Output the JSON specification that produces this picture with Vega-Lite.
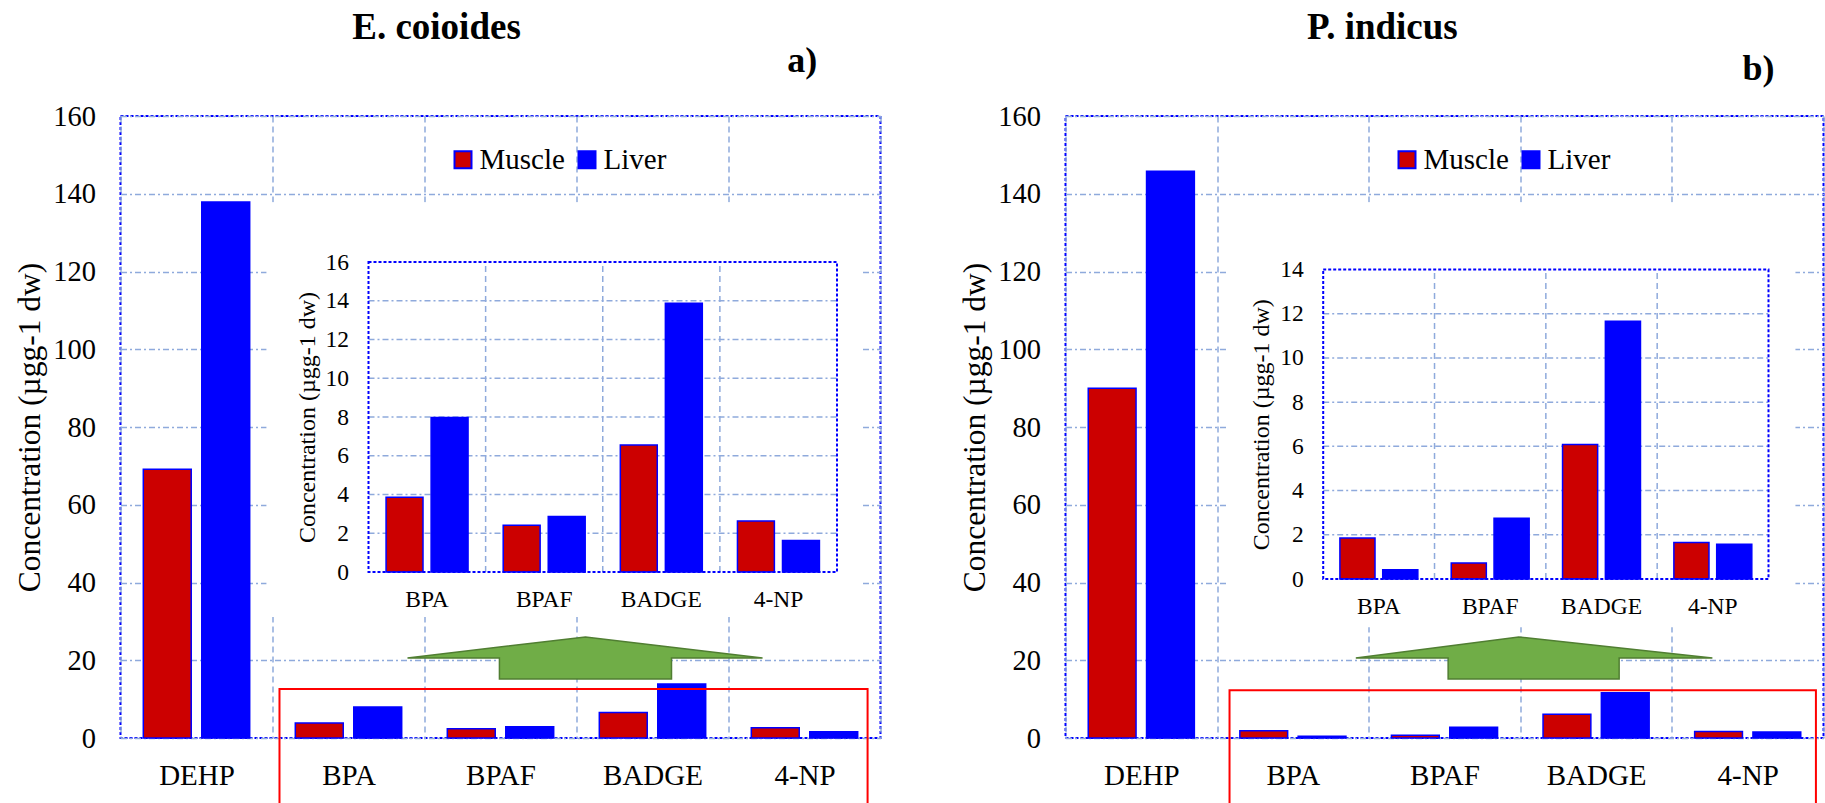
{
  "$schema": "https://vega.github.io/schema/vega-lite/v6.json",
  "padding": {"left": 13.5, "top": 8, "right": 0, "bottom": 0},
  "background": "white",
  "config": {
    "font": "Liberation Serif",
    "view": {"stroke": "#0000FF", "strokeDash": [3, 2], "strokeWidth": 2},
    "axis": {"labelColor": "black", "titleColor": "black", "labelFont": "Liberation Serif", "titleFont": "Liberation Serif", "titleFontWeight": "normal"},
    "text": {"font": "Liberation Serif"}
  },
  "datasets": {
    "a": [
      {"compound": "DEHP", "tissue": "Muscle", "value": 69.1},
      {"compound": "DEHP", "tissue": "Liver", "value": 137.9},
      {"compound": "BPA", "tissue": "Muscle", "value": 3.86},
      {"compound": "BPA", "tissue": "Liver", "value": 7.97},
      {"compound": "BPAF", "tissue": "Muscle", "value": 2.41},
      {"compound": "BPAF", "tissue": "Liver", "value": 2.87},
      {"compound": "BADGE", "tissue": "Muscle", "value": 6.56},
      {"compound": "BADGE", "tissue": "Liver", "value": 13.87},
      {"compound": "4-NP", "tissue": "Muscle", "value": 2.63},
      {"compound": "4-NP", "tissue": "Liver", "value": 1.63}
    ],
    "b": [
      {"compound": "DEHP", "tissue": "Muscle", "value": 90.0},
      {"compound": "DEHP", "tissue": "Liver", "value": 145.8},
      {"compound": "BPA", "tissue": "Muscle", "value": 1.86},
      {"compound": "BPA", "tissue": "Liver", "value": 0.42},
      {"compound": "BPAF", "tissue": "Muscle", "value": 0.72},
      {"compound": "BPAF", "tissue": "Liver", "value": 2.75},
      {"compound": "BADGE", "tissue": "Muscle", "value": 6.08},
      {"compound": "BADGE", "tissue": "Liver", "value": 11.66},
      {"compound": "4-NP", "tissue": "Muscle", "value": 1.65},
      {"compound": "4-NP", "tissue": "Liver", "value": 1.57}
    ],
    "gridA": [{"v": 2}, {"v": 4}, {"v": 6}, {"v": 8}, {"v": 10}, {"v": 12}, {"v": 14}],
    "gridB": [{"v": 2}, {"v": 4}, {"v": 6}, {"v": 8}, {"v": 10}, {"v": 12}],
    "arrowA": [
      {"i": 0, "x": 1.888, "y": 20.6},
      {"i": 1, "x": 3.059, "y": 26.0},
      {"i": 2, "x": 4.224, "y": 20.6},
      {"i": 3, "x": 3.625, "y": 20.6},
      {"i": 4, "x": 3.625, "y": 15.2},
      {"i": 5, "x": 2.493, "y": 15.2},
      {"i": 6, "x": 2.493, "y": 20.6},
      {"i": 7, "x": 1.888, "y": 20.6}
    ],
    "arrowB": [
      {"i": 0, "x": 1.915, "y": 20.6},
      {"i": 1, "x": 2.99, "y": 26.0},
      {"i": 2, "x": 4.267, "y": 20.6},
      {"i": 3, "x": 3.652, "y": 20.6},
      {"i": 4, "x": 3.652, "y": 15.2},
      {"i": 5, "x": 2.524, "y": 15.2},
      {"i": 6, "x": 2.524, "y": 20.6},
      {"i": 7, "x": 1.915, "y": 20.6}
    ],
    "one": [{}]
  },
  "bounds": "flush",
  "spacing": 185,
  "resolve": {"scale": {"color": "independent"}, "legend": {"color": "independent"}},
  "hconcat": [
    {
      "width": 760,
      "height": 622,
      "resolve": {"scale": {"x": "independent", "y": "independent", "xOffset": "independent"}},
      "layer": [
        {
          "data": {"name": "a"},
          "mark": {"type": "bar", "stroke": "#0000FF", "strokeWidth": 1.5},
          "encoding": {
            "x": {"field": "compound", "type": "nominal", "sort": ["DEHP", "BPA", "BPAF", "BADGE", "4-NP"],
              "scale": {"paddingInner": 0, "paddingOuter": 0},
              "axis": {"title": null, "labelAngle": 0, "labelFontSize": 29, "labelPadding": 23, "ticks": false, "domain": false, "grid": true, "tickBand": "extent", "gridDash": [6, 4], "gridColor": "#8FAADC", "gridWidth": 1.5}},
            "xOffset": {"field": "tissue", "type": "nominal", "sort": ["Muscle", "Liver"], "scale": {"paddingInner": 0.18, "paddingOuter": 0.39}},
            "y": {"field": "value", "type": "quantitative", "scale": {"domain": [0, 160], "nice": false},
              "axis": {"values": [0, 20, 40, 60, 80, 100, 120, 140, 160], "title": "Concentration (µgg-1 dw)", "titleFontSize": 31.5, "titlePadding": 6, "labelFontSize": 28.5, "labelPadding": 25, "ticks": false, "domain": false, "grid": true, "gridDash": [6, 3, 2, 3], "gridColor": "#8FAADC", "gridWidth": 1.5}},
            "color": {"field": "tissue", "type": "nominal", "sort": ["Muscle", "Liver"],
              "scale": {"domain": ["Muscle", "Liver"], "range": ["#CC0000", "#0000FF"]},
              "legend": {"title": null, "orient": "none", "legendX": 328, "legendY": 29, "direction": "horizontal", "symbolType": "square", "symbolSize": 289, "symbolStrokeColor": "#0000FF", "symbolStrokeWidth": 2, "symbolOpacity": 1, "labelFontSize": 29, "labelFont": "Liberation Serif", "labelColor": "black", "labelOffset": 2, "columnPadding": 7}}
          }
        },
        {
          "layer": [
            {
              "data": {"name": "one"},
              "mark": {"type": "rect", "fill": "white", "strokeWidth": 0},
              "encoding": {
                "x": {"datum": 0.96, "type": "quantitative", "scale": {"domain": [0, 5], "nice": false, "zero": false}, "axis": null},
                "x2": {"datum": 4.875},
                "y": {"datum": 31.1, "type": "quantitative", "scale": {"domain": [0, 160], "nice": false}, "axis": null},
                "y2": {"datum": 137.8}
              }
            },
            {
              "data": {"name": "one"},
              "mark": {"type": "rect", "filled": false, "stroke": "#FF0000", "strokeWidth": 2},
              "encoding": {
                "x": {"datum": 1.046, "type": "quantitative", "axis": null},
                "x2": {"datum": 4.915},
                "y": {"datum": 12.6, "type": "quantitative", "axis": null},
                "y2": {"datum": -20}
              }
            },
            {
              "data": {"name": "arrowA"},
              "mark": {"type": "line", "filled": true, "fill": "#70AD47", "stroke": "#507E32", "strokeWidth": 1.5, "interpolate": "linear"},
              "encoding": {
                "x": {"field": "x", "type": "quantitative", "axis": null},
                "y": {"field": "y", "type": "quantitative", "axis": null},
                "order": {"field": "i", "type": "quantitative"}
              }
            },
            {
              "data": {"name": "one"},
              "mark": {"type": "text", "text": "E. coioides", "fontSize": 37, "fontWeight": "bold", "align": "center", "baseline": "alphabetic", "color": "black"},
              "encoding": {
                "x": {"datum": 2.079, "type": "quantitative", "axis": null},
                "y": {"datum": 179.7, "type": "quantitative", "axis": null}
              }
            },
            {
              "data": {"name": "one"},
              "mark": {"type": "text", "text": "a)", "fontSize": 36, "fontWeight": "bold", "align": "center", "baseline": "alphabetic", "color": "black"},
              "encoding": {
                "x": {"datum": 4.485, "type": "quantitative", "axis": null},
                "y": {"datum": 171.3, "type": "quantitative", "axis": null}
              }
            }
          ]
        },
        {
          "layer": [
            {
              "data": {"name": "gridA"},
              "mark": {"type": "rule", "stroke": "#8FAADC", "strokeWidth": 1.5, "strokeDash": [6, 3, 2, 3]},
              "encoding": {
                "x": {"datum": "BPA", "type": "nominal", "bandPosition": 0, "scale": {"domain": ["BPA", "BPAF", "BADGE", "4-NP"], "range": [248, 716.5], "paddingInner": 0, "paddingOuter": 0}},
                "x2": {"datum": "4-NP", "bandPosition": 1},
                "y": {"field": "v", "type": "quantitative", "scale": {"domain": [0, 16], "range": [456, 146], "nice": false}}
              }
            },
            {
              "data": {"name": "a"},
              "transform": [{"filter": "datum.tissue == 'Muscle' && datum.compound != 'DEHP' && datum.compound != 'BPA'"}],
              "mark": {"type": "rule", "stroke": "#8FAADC", "strokeWidth": 1.5, "strokeDash": [6, 4]},
              "encoding": {
                "x": {"field": "compound", "type": "nominal", "bandPosition": 0},
                "y": {"datum": 0, "type": "quantitative"},
                "y2": {"datum": 16}
              }
            },
            {
              "data": {"name": "a"},
              "transform": [{"filter": "datum.compound != 'DEHP'"}],
              "mark": {"type": "bar", "stroke": "#0000FF", "strokeWidth": 1.5},
              "encoding": {
                "x": {"field": "compound", "type": "nominal",
                  "axis": {"title": null, "orient": "bottom", "offset": -166, "zindex": 1, "bandPosition": 0.5, "labelAlign": "center", "labelAngle": 0, "labelFontSize": 23.5, "labelPadding": 27, "ticks": false, "domain": false, "grid": false}},
                "xOffset": {"field": "tissue", "type": "nominal", "sort": ["Muscle", "Liver"], "scale": {"paddingInner": 0.18, "paddingOuter": 0.39}},
                "y": {"field": "value", "type": "quantitative",
                  "axis": {"orient": "left", "offset": -248, "zindex": 1, "values": [0, 2, 4, 6, 8, 10, 12, 14, 16], "title": "Concentration (µgg-1 dw)", "titleFontSize": 24, "titlePadding": 6, "labelFontSize": 23.5, "labelPadding": 20, "ticks": false, "domain": false, "grid": false}},
                "color": {"field": "tissue", "type": "nominal", "sort": ["Muscle", "Liver"], "legend": null}
              }
            },
            {
              "data": {"name": "one"},
              "mark": {"type": "rect", "filled": false, "stroke": "#0000FF", "strokeWidth": 2, "strokeDash": [3, 2]},
              "encoding": {
                "x": {"datum": "BPA", "type": "nominal", "bandPosition": 0},
                "x2": {"datum": "4-NP", "bandPosition": 1},
                "y": {"datum": 0, "type": "quantitative"},
                "y2": {"datum": 16}
              }
            }
          ]
        }
      ]
    },
    {
      "width": 758,
      "height": 622,
      "resolve": {"scale": {"x": "independent", "y": "independent", "xOffset": "independent"}},
      "layer": [
        {
          "data": {"name": "b"},
          "mark": {"type": "bar", "stroke": "#0000FF", "strokeWidth": 1.5},
          "encoding": {
            "x": {"field": "compound", "type": "nominal", "sort": ["DEHP", "BPA", "BPAF", "BADGE", "4-NP"],
              "scale": {"paddingInner": 0, "paddingOuter": 0},
              "axis": {"title": null, "labelAngle": 0, "labelFontSize": 29, "labelPadding": 23, "ticks": false, "domain": false, "grid": true, "tickBand": "extent", "gridDash": [6, 4], "gridColor": "#8FAADC", "gridWidth": 1.5}},
            "xOffset": {"field": "tissue", "type": "nominal", "sort": ["Muscle", "Liver"], "scale": {"paddingInner": 0.18, "paddingOuter": 0.39}},
            "y": {"field": "value", "type": "quantitative", "scale": {"domain": [0, 160], "nice": false},
              "axis": {"values": [0, 20, 40, 60, 80, 100, 120, 140, 160], "title": "Concentration (µgg-1 dw)", "titleFontSize": 31.5, "titlePadding": 6, "labelFontSize": 28.5, "labelPadding": 25, "ticks": false, "domain": false, "grid": true, "gridDash": [6, 3, 2, 3], "gridColor": "#8FAADC", "gridWidth": 1.5}},
            "color": {"field": "tissue", "type": "nominal", "sort": ["Muscle", "Liver"],
              "scale": {"domain": ["Muscle", "Liver"], "range": ["#CC0000", "#0000FF"]},
              "legend": {"title": null, "orient": "none", "legendX": 327, "legendY": 29, "direction": "horizontal", "symbolType": "square", "symbolSize": 289, "symbolStrokeColor": "#0000FF", "symbolStrokeWidth": 2, "symbolOpacity": 1, "labelFontSize": 29, "labelFont": "Liberation Serif", "labelColor": "black", "labelOffset": 2, "columnPadding": 7}}
          }
        },
        {
          "layer": [
            {
              "data": {"name": "one"},
              "mark": {"type": "rect", "fill": "white", "strokeWidth": 0},
              "encoding": {
                "x": {"datum": 1.062, "type": "quantitative", "scale": {"domain": [0, 5], "nice": false, "zero": false}, "axis": null},
                "x2": {"datum": 4.815},
                "y": {"datum": 28.5, "type": "quantitative", "scale": {"domain": [0, 160], "nice": false}, "axis": null},
                "y2": {"datum": 137.8}
              }
            },
            {
              "data": {"name": "one"},
              "mark": {"type": "rect", "filled": false, "stroke": "#FF0000", "strokeWidth": 2},
              "encoding": {
                "x": {"datum": 1.082, "type": "quantitative", "axis": null},
                "x2": {"datum": 4.95},
                "y": {"datum": 12.3, "type": "quantitative", "axis": null},
                "y2": {"datum": -20}
              }
            },
            {
              "data": {"name": "arrowB"},
              "mark": {"type": "line", "filled": true, "fill": "#70AD47", "stroke": "#507E32", "strokeWidth": 1.5, "interpolate": "linear"},
              "encoding": {
                "x": {"field": "x", "type": "quantitative", "axis": null},
                "y": {"field": "y", "type": "quantitative", "axis": null},
                "order": {"field": "i", "type": "quantitative"}
              }
            },
            {
              "data": {"name": "one"},
              "mark": {"type": "text", "text": "P. indicus", "fontSize": 37, "fontWeight": "bold", "align": "center", "baseline": "alphabetic", "color": "black"},
              "encoding": {
                "x": {"datum": 2.09, "type": "quantitative", "axis": null},
                "y": {"datum": 179.7, "type": "quantitative", "axis": null}
              }
            },
            {
              "data": {"name": "one"},
              "mark": {"type": "text", "text": "b)", "fontSize": 36, "fontWeight": "bold", "align": "center", "baseline": "alphabetic", "color": "black"},
              "encoding": {
                "x": {"datum": 4.571, "type": "quantitative", "axis": null},
                "y": {"datum": 169.2, "type": "quantitative", "axis": null}
              }
            }
          ]
        },
        {
          "layer": [
            {
              "data": {"name": "gridB"},
              "mark": {"type": "rule", "stroke": "#8FAADC", "strokeWidth": 1.5, "strokeDash": [6, 3, 2, 3]},
              "encoding": {
                "x": {"datum": "BPA", "type": "nominal", "bandPosition": 0, "scale": {"domain": ["BPA", "BPAF", "BADGE", "4-NP"], "range": [257.7, 703], "paddingInner": 0, "paddingOuter": 0}},
                "x2": {"datum": "4-NP", "bandPosition": 1},
                "y": {"field": "v", "type": "quantitative", "scale": {"domain": [0, 14], "range": [463, 153.5], "nice": false}}
              }
            },
            {
              "data": {"name": "b"},
              "transform": [{"filter": "datum.tissue == 'Muscle' && datum.compound != 'DEHP' && datum.compound != 'BPA'"}],
              "mark": {"type": "rule", "stroke": "#8FAADC", "strokeWidth": 1.5, "strokeDash": [6, 4]},
              "encoding": {
                "x": {"field": "compound", "type": "nominal", "bandPosition": 0},
                "y": {"datum": 0, "type": "quantitative"},
                "y2": {"datum": 14}
              }
            },
            {
              "data": {"name": "b"},
              "transform": [{"filter": "datum.compound != 'DEHP'"}],
              "mark": {"type": "bar", "stroke": "#0000FF", "strokeWidth": 1.5},
              "encoding": {
                "x": {"field": "compound", "type": "nominal",
                  "axis": {"title": null, "orient": "bottom", "offset": -159, "zindex": 1, "bandPosition": 0.5, "labelAlign": "center", "labelAngle": 0, "labelFontSize": 23.5, "labelPadding": 27, "ticks": false, "domain": false, "grid": false}},
                "xOffset": {"field": "tissue", "type": "nominal", "sort": ["Muscle", "Liver"], "scale": {"paddingInner": 0.18, "paddingOuter": 0.39}},
                "y": {"field": "value", "type": "quantitative",
                  "axis": {"orient": "left", "offset": -257.7, "zindex": 1, "values": [0, 2, 4, 6, 8, 10, 12, 14], "title": "Concentration (µgg-1 dw)", "titleFontSize": 24, "titlePadding": 6, "labelFontSize": 23.5, "labelPadding": 20, "ticks": false, "domain": false, "grid": false}},
                "color": {"field": "tissue", "type": "nominal", "sort": ["Muscle", "Liver"], "legend": null}
              }
            },
            {
              "data": {"name": "one"},
              "mark": {"type": "rect", "filled": false, "stroke": "#0000FF", "strokeWidth": 2, "strokeDash": [3, 2]},
              "encoding": {
                "x": {"datum": "BPA", "type": "nominal", "bandPosition": 0},
                "x2": {"datum": "4-NP", "bandPosition": 1},
                "y": {"datum": 0, "type": "quantitative"},
                "y2": {"datum": 14}
              }
            }
          ]
        }
      ]
    }
  ]
}
